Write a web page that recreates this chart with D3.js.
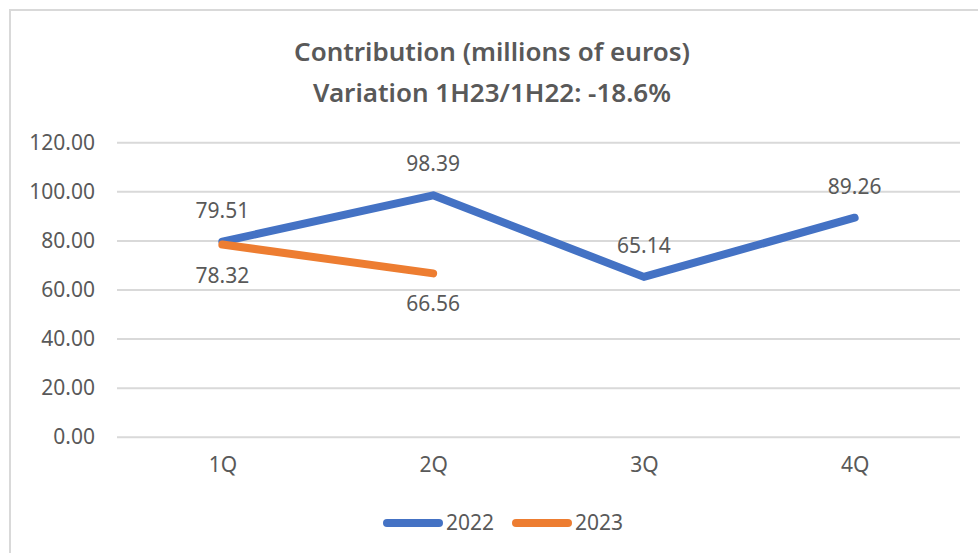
<!DOCTYPE html>
<html>
<head>
<meta charset="utf-8">
<script src="https://cdn.jsdelivr.net/npm/d3@7"></script>
<style>
  html, body { margin: 0; padding: 0; background: #fff; }
  svg text { font-family: "Noto Sans", "Open Sans", sans-serif; fill: #595959; }
</style>
</head>
<body>
<div id="area"></div>
<script>
var width = 978,
    height = 553;

// chart data
var quarters = ['1Q', '2Q', '3Q', '4Q'];
var values2022 = [79.51, 98.39, 65.14, 89.26];
var values2023 = [78.32, 66.56];
var yTicks = [0, 20, 40, 60, 80, 100, 120];
var seriesNames = ['2022', '2023'];

var colors = ['#4472C4', '#ED7D31'],
    grid_color = '#D9D9D9',
    text_color = '#595959';

var svg = d3.select('#area').append('svg')
    .attr('width', width)
    .attr('height', height);

// outer chart border (runs off the right/bottom edge like the screenshot)
svg.append('rect')
    .attr('x', 10).attr('y', 10)
    .attr('width', 1000).attr('height', 600)
    .attr('fill', 'none')
    .attr('stroke', grid_color)
    .attr('stroke-width', 2);

var x = d3.scalePoint().domain(quarters).range([117, 960]).padding(0.5);
var y = d3.scaleLinear().domain([0, 120]).range([436.7, 142.3]);

// title
var title = svg.append('text')
    .attr('text-anchor', 'middle')
    .attr('font-size', 26)
    .attr('font-weight', 600);
title.append('tspan').attr('x', 492).attr('y', 61).text('Contribution (millions of euros)');
title.append('tspan').attr('x', 492).attr('y', 102).text('Variation 1H23/1H22: -18.6%');

// gridlines
var yAxis = d3.axisLeft(y)
    .tickValues(yTicks)
    .tickSize(-(960 - 117))
    .tickPadding(22)
    .tickFormat(d3.format('.2f'));

var gy = svg.append('g')
    .attr('transform', 'translate(117,0)')
    .call(yAxis);
gy.select('.domain').remove();
gy.selectAll('.tick line').attr('stroke', grid_color).attr('stroke-width', 2);
gy.selectAll('.tick text')
    .attr('font-size', 21)
    .attr('fill', text_color);

// x axis labels
var xAxis = d3.axisBottom(x).tickSize(0).tickPadding(20);
var gx = svg.append('g')
    .attr('transform', 'translate(0,436.7)')
    .call(xAxis);
gx.select('.domain').remove();
gx.selectAll('.tick text')
    .attr('font-size', 21)
    .attr('fill', text_color);

var line = d3.line()
    .x(function(d, i) { return x(quarters[i]); })
    .y(function(d) { return y(d); });

[values2022, values2023].forEach(function(vals, s) {
  svg.append('path')
      .datum(vals)
      .attr('d', line)
      .attr('fill', 'none')
      .attr('stroke', colors[s])
      .attr('stroke-width', 8)
      .attr('stroke-linecap', 'round')
      .attr('stroke-linejoin', 'round');
});

// data labels: 2022 above, 2023 below
svg.append('g').selectAll('text')
    .data(values2022)
    .enter().append('text')
    .attr('x', function(d, i) { return x(quarters[i]); })
    .attr('y', function(d) { return y(d) - 24; })
    .attr('text-anchor', 'middle')
    .attr('font-size', 21)
    .text(function(d) { return d.toFixed(2); });

svg.append('g').selectAll('text')
    .data(values2023)
    .enter().append('text')
    .attr('x', function(d, i) { return x(quarters[i]); })
    .attr('y', function(d) { return y(d) + 38; })
    .attr('text-anchor', 'middle')
    .attr('font-size', 21)
    .text(function(d) { return d.toFixed(2); });

// legend
var legendX = [383, 512];
var legend = svg.append('g').selectAll('g')
    .data(seriesNames)
    .enter().append('g')
    .attr('transform', function(d, i) { return 'translate(' + legendX[i] + ',523)'; });

legend.append('line')
    .attr('x1', 4).attr('x2', 56)
    .attr('stroke', function(d, i) { return colors[i]; })
    .attr('stroke-width', 8)
    .attr('stroke-linecap', 'round');

legend.append('text')
    .attr('x', 63)
    .attr('dy', '0.35em')
    .attr('font-size', 21)
    .text(function(d) { return d; });
</script>
</body>
</html>
